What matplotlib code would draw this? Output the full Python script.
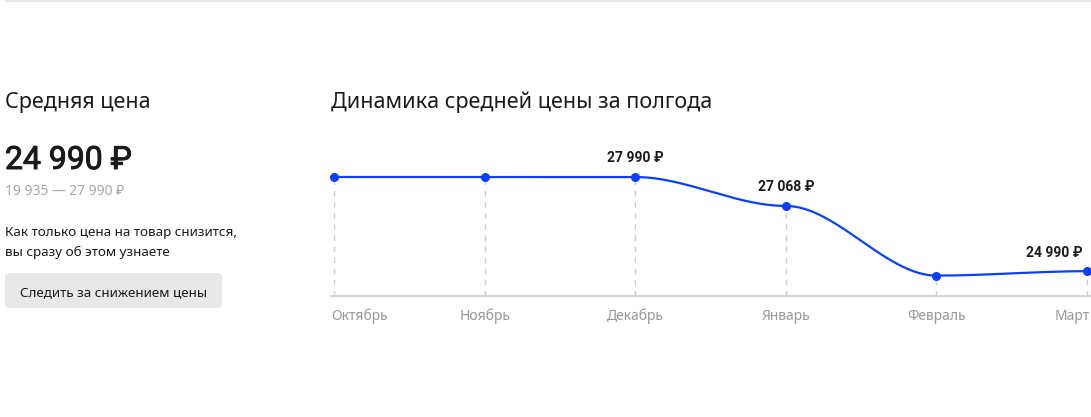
import numpy as np
import matplotlib
matplotlib.use('Agg')
import matplotlib.pyplot as plt
import matplotlib.transforms as mtransforms
import matplotlib.patheffects as pe
from matplotlib.patches import FancyBboxPatch

plt.rcParams['font.family'] = ['Noto Sans', 'DejaVu Sans']

months = ['Октябрь', 'Ноябрь', 'Декабрь', 'Январь', 'Февраль', 'Март']
prices = [27990, 27990, 27990, 27068, 24850, 24990]
labelled = {2: '27 990 ₽', 3: '27 068 ₽', 5: '24 990 ₽'}

W, H = 1091, 417
BLUE = '#0a3fff'


def bump(x, y, n=40):
    # smooth line with flat tangents at every point (like d3 curveBumpX)
    xs, ys = [], []
    for i in range(len(x) - 1):
        u = np.linspace(0, 1, n)
        k = 3 * u**2 - 2 * u**3
        xs.append(x[i] + u * (x[i + 1] - x[i]))
        ys.append(y[i] + k * (y[i + 1] - y[i]))
    return np.concatenate(xs), np.concatenate(ys)


fig = plt.figure(figsize=(W / 100, H / 100), dpi=100)


def fx(px):
    return px / W


def fy(py):
    return 1 - py / H


# top separator
fig.add_artist(plt.Line2D([fx(6), 1], [fy(1), fy(1)], color='#e6e6e6', lw=1.5))

# left block
fig.text(fx(5), fy(108), 'Средняя цена', fontsize=15.5, color='#1a1a1a', va='baseline')
fig.text(fx(5), fy(169), '24 990 ₽', fontsize=23, color='#1a1a1a', va='baseline',
         family=['Roboto', 'DejaVu Sans'],
         path_effects=[pe.withStroke(linewidth=0.7, foreground='#1a1a1a')])
fig.text(fx(5), fy(195), '19 935 — 27 990 ₽', fontsize=10, color='#a6a6a6', va='baseline')
fig.text(fx(5), fy(236), 'Как только цена на товар снизится,', fontsize=9.7, color='#1a1a1a', va='baseline')
fig.text(fx(5), fy(256), 'вы сразу об этом узнаете', fontsize=9.7, color='#1a1a1a', va='baseline')

btn = FancyBboxPatch((5, H - 308), 217, 35, boxstyle='round,pad=0,rounding_size=4',
                     transform=mtransforms.IdentityTransform(), facecolor='#e8e8e8',
                     edgecolor='none')
fig.add_artist(btn)
fig.text(fx(114), fy(293), 'Следить за снижением цены', fontsize=9.7, color='#1a1a1a',
         ha='center', va='center')

fig.text(fx(331), fy(108), 'Динамика средней цены за полгода', fontsize=15.5, color='#1a1a1a',
         va='baseline')

# chart
ax = fig.add_axes([fx(334), fy(296), fx(1087) - fx(334), fy(150) - fy(296)])
ax.set_xlim(0, 5)
ax.set_ylim(24200, 28850)
ax.axis('off')

xi = np.arange(len(months))
ymin = ax.get_ylim()[0]
for i in xi:
    ax.plot([i, i], [ymin, prices[i]], color='#cccccc', lw=1, ls=(0, (4, 4)), clip_on=False, zorder=1)
ax.plot([-0.02, 5.05], [ymin, ymin], color='#cccccc', lw=1.2, clip_on=False, zorder=1)

sx, sy = bump(xi, prices)
ax.plot(sx, sy, color=BLUE, lw=1.6, clip_on=False, zorder=3)
ax.plot(xi, prices, 'o', color=BLUE, ms=5.5, clip_on=False, zorder=4)

for i, lab in labelled.items():
    if i == len(months) - 1:
        ax.annotate(lab, (i, prices[i]), xytext=(-3, 10.5), textcoords='offset points',
                    ha='right', va='baseline', fontsize=10, fontweight='bold', color='#1a1a1a',
                    family=['Roboto', 'DejaVu Sans'])
    else:
        ax.annotate(lab, (i, prices[i]), xytext=(0, 10.5), textcoords='offset points',
                    ha='center', va='baseline', fontsize=10, fontweight='bold', color='#1a1a1a',
                    family=['Roboto', 'DejaVu Sans'])

for i, m in enumerate(months):
    ha, dx = 'center', 0
    if i == 0:
        ha, dx = 'left', -2.2
    elif i == len(months) - 1:
        ha, dx = 'right', 2.2
    ax.annotate(m, (i, ymin), xytext=(dx, -17), textcoords='offset points', ha=ha,
                va='baseline', fontsize=10, color='#999999', annotation_clip=False)

fig.savefig('out.png', dpi=100)
